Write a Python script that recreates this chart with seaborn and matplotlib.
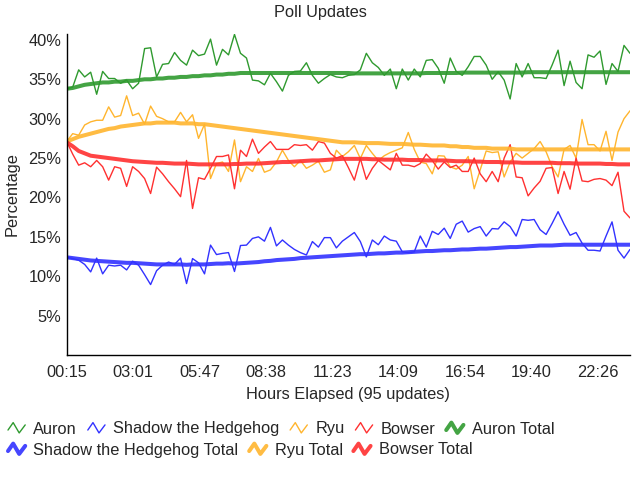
import numpy as np
import pandas as pd
import matplotlib
matplotlib.use("Agg")
import matplotlib.pyplot as plt
import seaborn as sns
from matplotlib.legend_handler import HandlerLine2D
from matplotlib.lines import Line2D

# values (percent), one per update
auron = [33.8, 34.0, 36.2, 35.3, 35.9, 33.1, 36.0, 35.1, 35.1, 34.5, 34.9, 33.8, 34.5, 38.9, 39.0, 35.3,
         36.9, 37.0, 38.4, 37.4, 36.8, 38.7, 38.0, 38.2, 40.1, 36.8, 38.8, 38.1, 40.7, 38.3, 37.7, 34.9,
         34.8, 34.3, 35.75, 34.7, 33.5, 35.5, 36.0, 36.05, 37.1, 35.5, 34.5, 35.1, 35.6, 35.3, 35.2, 35.5,
         35.6, 36.2, 38.3, 37.1, 36.5, 35.5, 36.3, 33.8, 36.3, 34.9, 36.3, 35.3, 37.4, 37.5, 36.4, 34.5,
         37.7, 36.0, 35.5, 36.6, 37.9, 37.9, 36.8, 35.0, 35.96, 34.9, 32.5, 37.0, 35.3, 37.0, 35.2, 35.2,
         35.1, 36.8, 38.7, 34.2, 37.3, 34.6, 33.8, 38.1, 37.8, 38.6, 34.35, 37.0, 36.0, 39.3, 38.3]
shadow = [12.4, 12.24, 12.03, 11.5, 10.55, 12.3, 10.3, 11.4, 11.3, 11.4, 10.8, 11.9, 11.4, 10.2, 8.94, 10.7,
          11.4, 11.8, 11.5, 12.3, 9.07, 12.24, 11.7, 10.3, 13.95, 12.75, 12.9, 13.0, 10.6, 13.9, 13.95, 14.8,
          15.0, 14.45, 16.2, 13.85, 14.6, 13.95, 13.4, 13.0, 12.7, 14.4, 13.7, 14.9, 14.9, 13.6, 14.45, 15.0,
          15.55, 14.4, 12.45, 14.6, 14.0, 15.1, 14.6, 14.45, 13.1, 13.0, 13.1, 15.1, 13.7, 15.7, 15.3, 16.1,
          14.8, 16.6, 17.0, 15.6, 16.05, 16.3, 15.1, 16.05, 16.0, 16.9, 16.3, 15.1, 17.2, 17.1, 17.2, 15.9,
          15.3, 16.7, 18.2, 16.6, 15.2, 15.55, 14.2, 13.3, 13.3, 13.2, 15.1, 16.9, 13.3, 12.3, 13.4]
ryu = [27.1, 28.1, 27.9, 29.2, 29.6, 29.8, 29.8, 31.5, 30.2, 30.4, 32.9, 30.4, 30.7, 29.3, 31.6, 30.3,
       30.0, 29.6, 29.6, 30.8, 29.6, 30.5, 27.5, 29.3, 22.4, 24.3, 24.5, 23.3, 27.3, 22.0, 23.9, 23.3,
       24.95, 23.2, 23.5, 24.5, 26.0, 24.7, 23.9, 24.7, 23.7, 24.1, 24.6, 23.2, 23.5, 26.0, 25.2, 25.8,
       26.6, 24.95, 26.6, 25.6, 24.7, 25.3, 25.7, 26.0, 26.3, 28.25, 26.1, 24.5, 24.3, 23.0, 25.3, 25.25,
       23.9, 23.6, 24.1, 25.2, 21.1, 23.5, 25.9, 25.7, 25.8, 22.6, 24.5, 25.6, 25.0, 25.6, 26.2, 27.1,
       25.8, 23.9, 22.6, 26.1, 26.6, 25.0, 29.9, 26.7, 26.7, 25.9, 28.4, 24.7, 28.3, 30.0, 31.0]
bowser = [27.1, 25.5, 24.1, 24.4, 23.9, 24.7, 23.9, 22.2, 23.9, 23.7, 21.4, 23.9, 23.3, 22.4, 20.5, 23.85,
          23.0, 22.0, 21.1, 20.1, 24.7, 18.6, 22.5, 22.3, 23.7, 25.2, 25.2, 25.4, 21.1, 26.0, 25.2, 27.4,
          25.6, 26.4, 27.1, 26.1, 26.1, 26.1, 26.7, 26.6, 26.7, 26.0, 27.1, 26.9, 25.6, 25.0, 25.3, 23.8,
          22.2, 24.95, 22.3, 23.7, 24.7, 24.1, 23.5, 25.6, 24.1, 24.1, 23.9, 24.3, 25.5, 24.7, 23.6, 24.5,
          23.8, 24.1, 23.3, 23.3, 25.0, 23.0, 22.0, 23.3, 22.0, 25.0, 26.7, 22.6, 22.5, 20.2, 21.2, 22.05,
          23.7, 23.8, 20.5, 23.3, 21.05, 25.0, 22.1, 22.0, 22.3, 22.4, 22.2, 21.5, 23.2, 18.25, 17.4]

auron_total = [33.8, 33.9, 34.1, 34.3, 34.4, 34.5, 34.6, 34.6, 34.7, 34.7, 34.8, 34.8, 34.9, 35.0, 35.0, 35.1,
               35.1, 35.2, 35.2, 35.3, 35.3, 35.4, 35.4, 35.5, 35.5, 35.6, 35.6, 35.7, 35.7, 35.8, 35.8, 35.8,
               35.8, 35.8, 35.8, 35.8, 35.8, 35.8, 35.8, 35.8, 35.8, 35.8, 35.8, 35.8, 35.8, 35.8, 35.8, 35.8,
               35.75, 35.75, 35.75, 35.75, 35.75, 35.75, 35.75, 35.75, 35.75, 35.75, 35.75, 35.75, 35.8, 35.8, 35.8, 35.8,
               35.8, 35.8, 35.85, 35.85, 35.85, 35.85, 35.85, 35.85, 35.85, 35.85, 35.85, 35.85, 35.85, 35.9, 35.9, 35.9,
               35.9, 35.9, 35.9, 35.9, 35.9, 35.9, 35.9, 35.9, 35.9, 35.9, 35.9, 35.9, 35.9, 35.9, 35.9]
shadow_total = [12.4, 12.3, 12.2, 12.1, 12.0, 11.95, 11.9, 11.85, 11.8, 11.75, 11.7, 11.7, 11.65, 11.6, 11.55, 11.5,
                11.5, 11.5, 11.5, 11.5, 11.45, 11.5, 11.5, 11.5, 11.55, 11.6, 11.6, 11.65, 11.6, 11.65, 11.7, 11.75,
                11.8, 11.9, 11.95, 12.05, 12.1, 12.15, 12.2, 12.3, 12.35, 12.4, 12.45, 12.5, 12.55, 12.6, 12.65, 12.7,
                12.75, 12.8, 12.8, 12.85, 12.9, 12.9, 12.95, 13.0, 13.0, 13.05, 13.1, 13.15, 13.2, 13.2, 13.25, 13.3,
                13.3, 13.35, 13.4, 13.4, 13.45, 13.5, 13.5, 13.55, 13.6, 13.65, 13.7, 13.7, 13.75, 13.8, 13.85, 13.9,
                13.9, 13.9, 13.95, 14.0, 14.0, 14.0, 14.0, 14.0, 14.0, 14.0, 14.0, 14.0, 14.0, 14.0, 14.0]
ryu_total = [27.1, 27.4, 27.7, 27.9, 28.1, 28.3, 28.5, 28.7, 28.8, 29.0, 29.1, 29.2, 29.3, 29.4, 29.4, 29.5,
             29.5, 29.5, 29.5, 29.4, 29.4, 29.4, 29.3, 29.3, 29.2, 29.1, 29.0, 28.9, 28.8, 28.7, 28.6, 28.5,
             28.4, 28.3, 28.2, 28.1, 28.0, 27.9, 27.8, 27.7, 27.6, 27.5, 27.4, 27.3, 27.2, 27.1, 27.0, 27.0,
             27.0, 26.95, 26.9, 26.9, 26.9, 26.85, 26.8, 26.8, 26.8, 26.75, 26.7, 26.7, 26.65, 26.6, 26.6, 26.6,
             26.5, 26.5, 26.4, 26.4, 26.3, 26.3, 26.3, 26.2, 26.2, 26.2, 26.2, 26.1, 26.1, 26.1, 26.1, 26.1,
             26.1, 26.1, 26.1, 26.1, 26.1, 26.1, 26.1, 26.1, 26.1, 26.1, 26.1, 26.1, 26.1, 26.1, 26.1]
bowser_total = [27.0, 26.5, 25.9, 25.6, 25.3, 25.2, 25.1, 25.0, 24.9, 24.8, 24.7, 24.6, 24.55, 24.5, 24.45, 24.4,
                24.4, 24.35, 24.3, 24.3, 24.3, 24.25, 24.2, 24.2, 24.2, 24.2, 24.2, 24.2, 24.25, 24.25, 24.3, 24.3,
                24.3, 24.35, 24.4, 24.45, 24.5, 24.5, 24.55, 24.6, 24.65, 24.7, 24.7, 24.75, 24.8, 24.85, 24.9, 24.9,
                24.9, 24.9, 24.9, 24.85, 24.85, 24.8, 24.8, 24.8, 24.8, 24.75, 24.75, 24.75, 24.7, 24.7, 24.7, 24.7,
                24.65, 24.6, 24.6, 24.6, 24.55, 24.55, 24.5, 24.5, 24.5, 24.45, 24.45, 24.45, 24.4, 24.4, 24.4, 24.4,
                24.4, 24.4, 24.35, 24.35, 24.35, 24.3, 24.3, 24.3, 24.3, 24.3, 24.25, 24.25, 24.2, 24.2, 24.2]

tick_pos = [0, 11.08, 22.16, 33.24, 44.32, 55.4, 66.48, 77.56, 88.64]
tick_labels = ['00:15', '03:01', '05:47', '08:38', '11:23', '14:09', '16:54', '19:40', '22:26']

FS = 11.8


class ZigzagHandler(HandlerLine2D):
    # little zigzag icon like the original legend
    def create_artists(self, legend, orig_handle, xdescent, ydescent, width, height, fontsize, trans):
        xs = np.array([0.0, 0.3, 0.65, 1.0]) * width - xdescent
        ys = np.array([0.3, 0.95, 0.05, 0.75]) * height - ydescent
        line = Line2D(xs, ys)
        self.update_prop(line, orig_handle, legend)
        line.set_transform(trans)
        return [line]


sns.set_theme(style='white')
plt.rcParams['font.family'] = ['Liberation Sans', 'DejaVu Sans']
plt.rcParams['font.size'] = FS

df = pd.DataFrame({
    'update': np.arange(len(auron)),
    'Auron': auron, 'Shadow the Hedgehog': shadow, 'Ryu': ryu, 'Bowser': bowser,
    'Auron Total': auron_total, 'Shadow the Hedgehog Total': shadow_total,
    'Ryu Total': ryu_total, 'Bowser Total': bowser_total,
})

colors = {'Auron': '#2f9a2f', 'Shadow the Hedgehog': '#3232ff', 'Ryu': '#ffb52e', 'Bowser': '#ff3030'}

fig = plt.figure(figsize=(6.4, 4.8), dpi=100)
ax = fig.add_axes([66.7 / 640, 1 - 355 / 480, (630 - 66.7) / 640, (355 - 34) / 480])

handles = {}
for name, c in colors.items():
    sns.lineplot(data=df, x='update', y=name, ax=ax, color=c, linewidth=1.0)
    handles[name] = ax.lines[-1]
for name, c in colors.items():
    sns.lineplot(data=df, x='update', y=name + ' Total', ax=ax, color=c, linewidth=2.9, alpha=0.9)
    handles[name + ' Total'] = ax.lines[-1]

ax.set_xlim(0, 94)
ax.set_ylim(0, 40.75)
ax.set_yticks(range(5, 41, 5))
ax.set_yticklabels([f'{v}%' for v in range(5, 41, 5)])
ax.set_xticks(tick_pos)
ax.set_xticklabels(tick_labels)
ax.tick_params(axis='y', direction='inout', length=6, width=1, color='black', pad=1, labelsize=FS)
ax.tick_params(axis='x', direction='in', length=4, width=1, color='black', pad=7, labelsize=FS)
for s in ['top', 'right']:
    ax.spines[s].set_visible(False)
for s in ['left', 'bottom']:
    ax.spines[s].set_color('black')
    ax.spines[s].set_linewidth(1)
ax.set_xlabel('Hours Elapsed (95 updates)', fontsize=FS, labelpad=5)
ax.set_ylabel('Percentage', fontsize=FS)
ax.yaxis.set_label_coords(-0.083, 0.5)

fig.text(0.5, 1 - 12 / 480, 'Poll Updates', ha='center', va='center', fontsize=FS)

row1 = ['Auron', 'Shadow the Hedgehog', 'Ryu', 'Bowser', 'Auron Total']
row2 = ['Shadow the Hedgehog Total', 'Ryu Total', 'Bowser Total']
leg_kw = dict(loc='center left', frameon=False, handlelength=1.05, handletextpad=0.5,
              columnspacing=0.65, borderpad=0, borderaxespad=0, fontsize=FS,
              handler_map={Line2D: ZigzagHandler()})
fig.legend([handles[n] for n in row1], row1, ncol=5,
           bbox_to_anchor=(8 / 640, 1 - 429 / 480), **leg_kw)
fig.legend([handles[n] for n in row2], row2, ncol=3,
           bbox_to_anchor=(8 / 640, 1 - 450 / 480), **leg_kw)

fig.savefig('out.png', dpi=100)
